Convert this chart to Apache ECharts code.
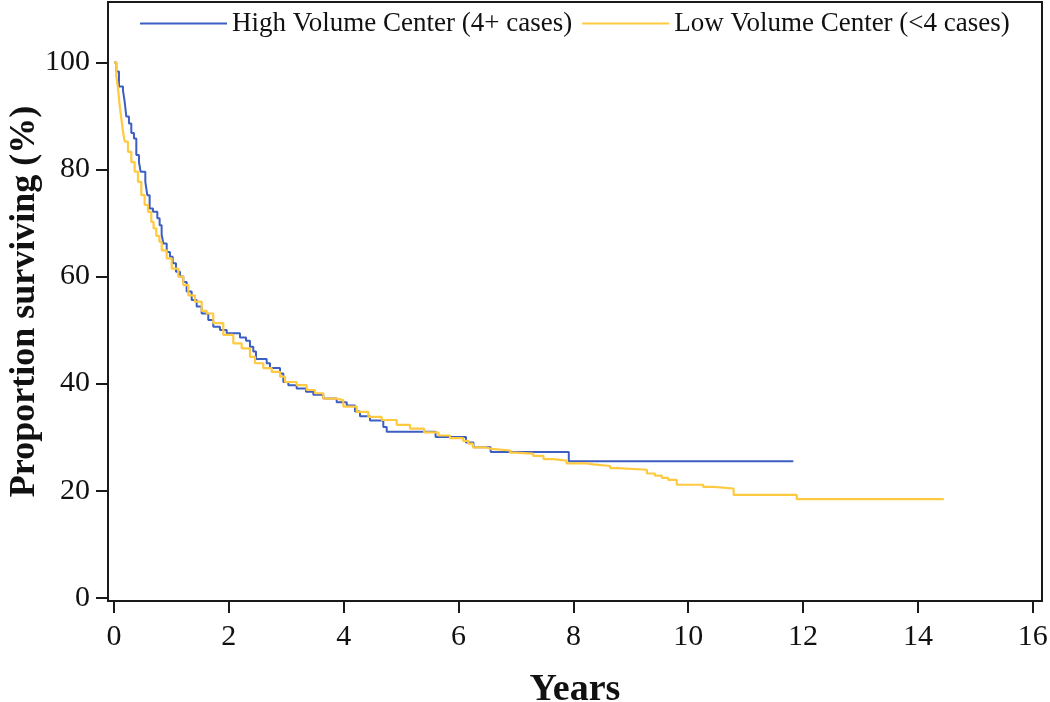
<!DOCTYPE html>
<html>
<head>
<meta charset="utf-8">
<script src="https://cdn.jsdelivr.net/npm/echarts@6/dist/echarts.min.js"></script>
<style>
html,body{margin:0;padding:0;background:#fff;}
#chart{width:1050px;height:702px;}
</style>
</head>
<body>
<div id="chart"></div>
<script>
// Kaplan-Meier survival, High Volume Center (4+ cases)
var highYears = [0, 0.04, 0.087, 0.157, 0.186, 0.215, 0.261, 0.302, 0.348, 0.389, 0.435, 0.464, 0.546, 0.580, 0.621, 0.679, 0.755, 0.795, 0.83, 0.86, 0.918, 0.975, 1.022, 1.080, 1.149, 1.207, 1.266, 1.353, 1.44, 1.527, 1.642, 1.729, 1.846, 1.963, 2.194, 2.30, 2.368, 2.426, 2.473, 2.659, 2.717, 2.891, 2.949, 3.036, 3.181, 3.344, 3.471, 3.645, 3.878, 4.053, 4.197, 4.284, 4.458, 4.69, 4.749, 5.6, 6.13, 6.26, 6.56, 7.92, 11.83];
var highSurv  = [100, 98.3, 95.5, 94.8, 92.7, 89.9, 88.6, 86.8, 85.8, 82.7, 81.4, 79.6, 77.7, 75.2, 72.7, 72.1, 70.9, 69.6, 67.8, 66.2, 64.6, 63.7, 62.5, 60.9, 60.0, 59.0, 57.2, 55.6, 54.4, 53.1, 51.9, 50.6, 50.0, 49.4, 48.6, 48.0, 46.9, 46.0, 44.6, 43.8, 42.9, 41.9, 40.3, 39.7, 39.1, 38.5, 37.9, 37.2, 36.5, 35.9, 34.8, 33.9, 33.1, 31.9, 31.0, 30.0, 29.0, 28.1, 27.2, 25.5, 25.5];

// Kaplan-Meier survival, Low Volume Center (<4 cases)
var lowYears = [0, 0.04, 0.07, 0.099, 0.127, 0.157, 0.186, 0.244, 0.302, 0.36, 0.418, 0.476, 0.534, 0.592, 0.65, 0.69, 0.737, 0.79, 0.831, 0.918, 1.005, 1.12, 1.207, 1.294, 1.41, 1.527, 1.614, 1.729, 1.904, 2.078, 2.224, 2.368, 2.456, 2.6, 2.746, 2.891, 2.978, 3.181, 3.356, 3.5, 3.645, 3.878, 3.993, 4.227, 4.429, 4.662, 4.923, 5.155, 5.4, 5.65, 5.85, 6.08, 6.17, 6.25, 6.46, 6.58, 6.90, 6.98, 7.30, 7.48, 7.65, 7.88, 8.23, 8.35, 8.64, 8.78, 9.28, 9.42, 9.54, 9.65, 9.80, 10.26, 10.44, 10.79, 11.89, 14.45];
var lowSurv  = [100, 97.6, 95.2, 92.0, 89.6, 87.1, 85.2, 83.3, 81.4, 79.6, 77.7, 75.2, 73.4, 72.1, 70.2, 69.0, 67.6, 66.5, 64.9, 63.4, 61.5, 60.0, 58.4, 56.5, 55.3, 53.6, 53.1, 51.3, 49.1, 47.5, 46.6, 45.0, 43.8, 42.9, 42.2, 41.3, 40.3, 39.7, 38.8, 38.2, 37.2, 36.9, 35.7, 34.7, 33.8, 33.2, 32.3, 31.6, 30.9, 30.3, 29.8, 29.3, 28.8, 28.1, 27.8, 27.5, 27.1, 26.9, 26.5, 25.9, 25.6, 25.1, 24.9, 24.6, 24.2, 23.9, 23.2, 22.8, 22.4, 22.0, 21.1, 20.7, 20.4, 19.2, 18.4, 18.4];

var seriesNames = ['High Volume Center (4+ cases)', 'Low Volume Center (<4 cases)'];
var xTicks = [0, 2, 4, 6, 8, 10, 12, 14, 16];
var yTicks = [0, 20, 40, 60, 80, 100];
var xTitle = 'Years';
var yTitle = 'Proportion surviving (%)';

function pairs(xs, ys) { return xs.map(function (x, i) { return [x, ys[i]]; }); }

var serif = '"Liberation Serif", "DejaVu Serif", serif';
var chart = echarts.init(document.getElementById('chart'), null, {renderer: 'canvas'});
chart.setOption({
  animation: false,
  backgroundColor: '#ffffff',
  grid: {
    left: 108, right: 8, top: 2, bottom: 101,
    containLabel: false, outerBoundsMode: 'none',
    show: true, borderColor: '#1a1a1a', borderWidth: 2, backgroundColor: 'transparent'
  },
  legend: {
    left: 135, top: 5,
    itemWidth: 87, itemHeight: 14, itemGap: 10,
    icon: 'path://M0,6 L87,6 L87,8 L0,8 Z',
    textStyle: { fontFamily: serif, fontSize: 27, color: '#111', padding: [0, 0, 0, 0] },
    data: seriesNames
  },
  xAxis: {
    type: 'value', min: -0.104, max: 16.16,
    name: xTitle, nameLocation: 'middle', nameGap: 70, nameMoveOverlap: false,
    nameTextStyle: { fontFamily: serif, fontSize: 38, fontWeight: 'bold', color: '#111' },
    axisLine: { show: true, onZero: false, lineStyle: { color: '#1a1a1a', width: 2 } },
    axisTick: { show: true, length: 12, lineStyle: { color: '#1a1a1a', width: 2 }, customValues: xTicks },
    axisLabel: { fontFamily: serif, fontSize: 30, color: '#111', margin: 21, customValues: xTicks },
    splitLine: { show: false }
  },
  yAxis: {
    type: 'value', min: -0.62, max: 111.3,
    name: yTitle, nameLocation: 'middle', nameGap: 65, nameMoveOverlap: false,
    nameTextStyle: { fontFamily: serif, fontSize: 36, fontWeight: 'bold', color: '#111' },
    axisLine: { show: true, onZero: false, lineStyle: { color: '#1a1a1a', width: 2 } },
    axisTick: { show: true, length: 12, lineStyle: { color: '#1a1a1a', width: 2 }, customValues: yTicks },
    axisLabel: { fontFamily: serif, fontSize: 30, color: '#111', margin: 18, customValues: yTicks },
    splitLine: { show: false }
  },
  series: [
    {
      name: seriesNames[0], type: 'line', step: 'end', showSymbol: false, symbol: 'none',
      data: pairs(highYears, highSurv),
      lineStyle: { color: '#3D5EC2', width: 2 }, itemStyle: { color: '#3D5EC2' }
    },
    {
      name: seriesNames[1], type: 'line', step: 'end', showSymbol: false, symbol: 'none',
      data: pairs(lowYears, lowSurv),
      lineStyle: { color: '#FFC940', width: 2.2 }, itemStyle: { color: '#FFC940' }
    }
  ]
});
</script>
</body>
</html>
